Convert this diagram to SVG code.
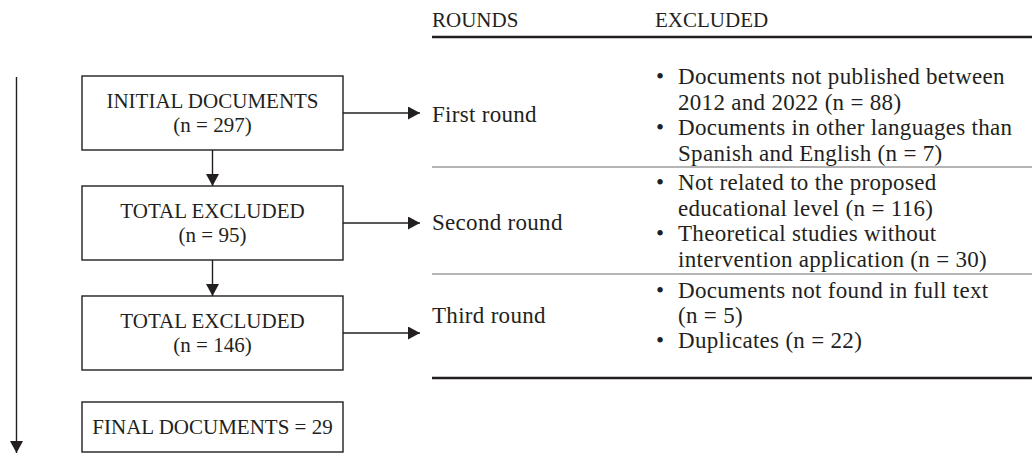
<svg xmlns="http://www.w3.org/2000/svg" width="1032" height="454" viewBox="0 0 1032 454">
<defs>
<style>
.box{fill:#fff;stroke:#231f20;stroke-width:1.4}
.bt{font-family:"Liberation Serif","Times New Roman",serif;font-size:21px;fill:#231f20;text-anchor:middle}
.hd{font-family:"Liberation Serif","Times New Roman",serif;font-size:21px;fill:#231f20}
.tx{font-family:"Liberation Serif","Times New Roman",serif;font-size:23px;fill:#231f20;letter-spacing:0.3px}
.cn{stroke:#231f20;stroke-width:1.4;fill:none}
.thick{stroke:#231f20;stroke-width:2.6}
.thin{stroke:#6d6d6d;stroke-width:1.2}
</style>
<marker id="ah" viewBox="0 0 12 13" refX="12" refY="6.5" markerWidth="12" markerHeight="13" markerUnits="userSpaceOnUse" orient="auto">
<path d="M0,0 L12,6.5 L0,13 Z" fill="#231f20"/>
</marker>
</defs>
<rect width="1032" height="454" fill="#fff"/>

<g id="connectors">
<line class="cn" x1="16.5" y1="77" x2="16.5" y2="453" marker-end="url(#ah)"/>
<line class="cn" x1="212.5" y1="150" x2="212.5" y2="186" marker-end="url(#ah)"/>
<line class="cn" x1="212.5" y1="260" x2="212.5" y2="296" marker-end="url(#ah)"/>
<line class="cn" x1="343" y1="113" x2="420" y2="113" marker-end="url(#ah)"/>
<line class="cn" x1="343" y1="223" x2="420" y2="223" marker-end="url(#ah)"/>
<line class="cn" x1="343" y1="333" x2="420" y2="333" marker-end="url(#ah)"/>
</g>

<g id="node-initial">
<rect class="box" x="82" y="76" width="261" height="74"/>
<text class="bt" x="212.5" y="108">INITIAL DOCUMENTS</text>
<text class="bt" x="212.5" y="132">(n = 297)</text>
</g>
<g id="node-excluded-95">
<rect class="box" x="82" y="186" width="261" height="74"/>
<text class="bt" x="212.5" y="218">TOTAL EXCLUDED</text>
<text class="bt" x="212.5" y="242">(n = 95)</text>
</g>
<g id="node-excluded-146">
<rect class="box" x="82" y="296" width="261" height="74"/>
<text class="bt" x="212.5" y="328">TOTAL EXCLUDED</text>
<text class="bt" x="212.5" y="352">(n = 146)</text>
</g>
<g id="node-final">
<rect class="box" x="82" y="402" width="261" height="50"/>
<text class="bt" x="212.5" y="434">FINAL DOCUMENTS = 29</text>
</g>

<g id="table">
<text class="hd" x="432" y="27">ROUNDS</text>
<text class="hd" x="655" y="27">EXCLUDED</text>
<line class="thick" x1="432" y1="37" x2="1032" y2="37"/>
<line class="thin" x1="432" y1="167" x2="1032" y2="167"/>
<line class="thin" x1="432" y1="274" x2="1032" y2="274"/>
<line class="thick" x1="432" y1="378" x2="1032" y2="378"/>

<g id="row-first">
<text class="tx" x="432" y="122">First round</text>
<text class="tx" x="656" y="84">•</text>
<text class="tx" x="678" y="84">Documents not published between</text>
<text class="tx" x="678" y="110">2012 and 2022 (n = 88)</text>
<text class="tx" x="656" y="135">•</text>
<text class="tx" x="678" y="135">Documents in other languages than</text>
<text class="tx" x="678" y="161">Spanish and English (n = 7)</text>
</g>
<g id="row-second">
<text class="tx" x="432" y="230">Second round</text>
<text class="tx" x="656" y="190">•</text>
<text class="tx" x="678" y="190">Not related to the proposed</text>
<text class="tx" x="678" y="216">educational level (n = 116)</text>
<text class="tx" x="656" y="241">•</text>
<text class="tx" x="678" y="241">Theoretical studies without</text>
<text class="tx" x="678" y="267">intervention application (n = 30)</text>
</g>
<g id="row-third">
<text class="tx" x="432" y="323">Third round</text>
<text class="tx" x="656" y="298">•</text>
<text class="tx" x="678" y="298">Documents not found in full text</text>
<text class="tx" x="678" y="323">(n = 5)</text>
<text class="tx" x="656" y="348">•</text>
<text class="tx" x="678" y="348">Duplicates (n = 22)</text>
</g>
</g>
</svg>
